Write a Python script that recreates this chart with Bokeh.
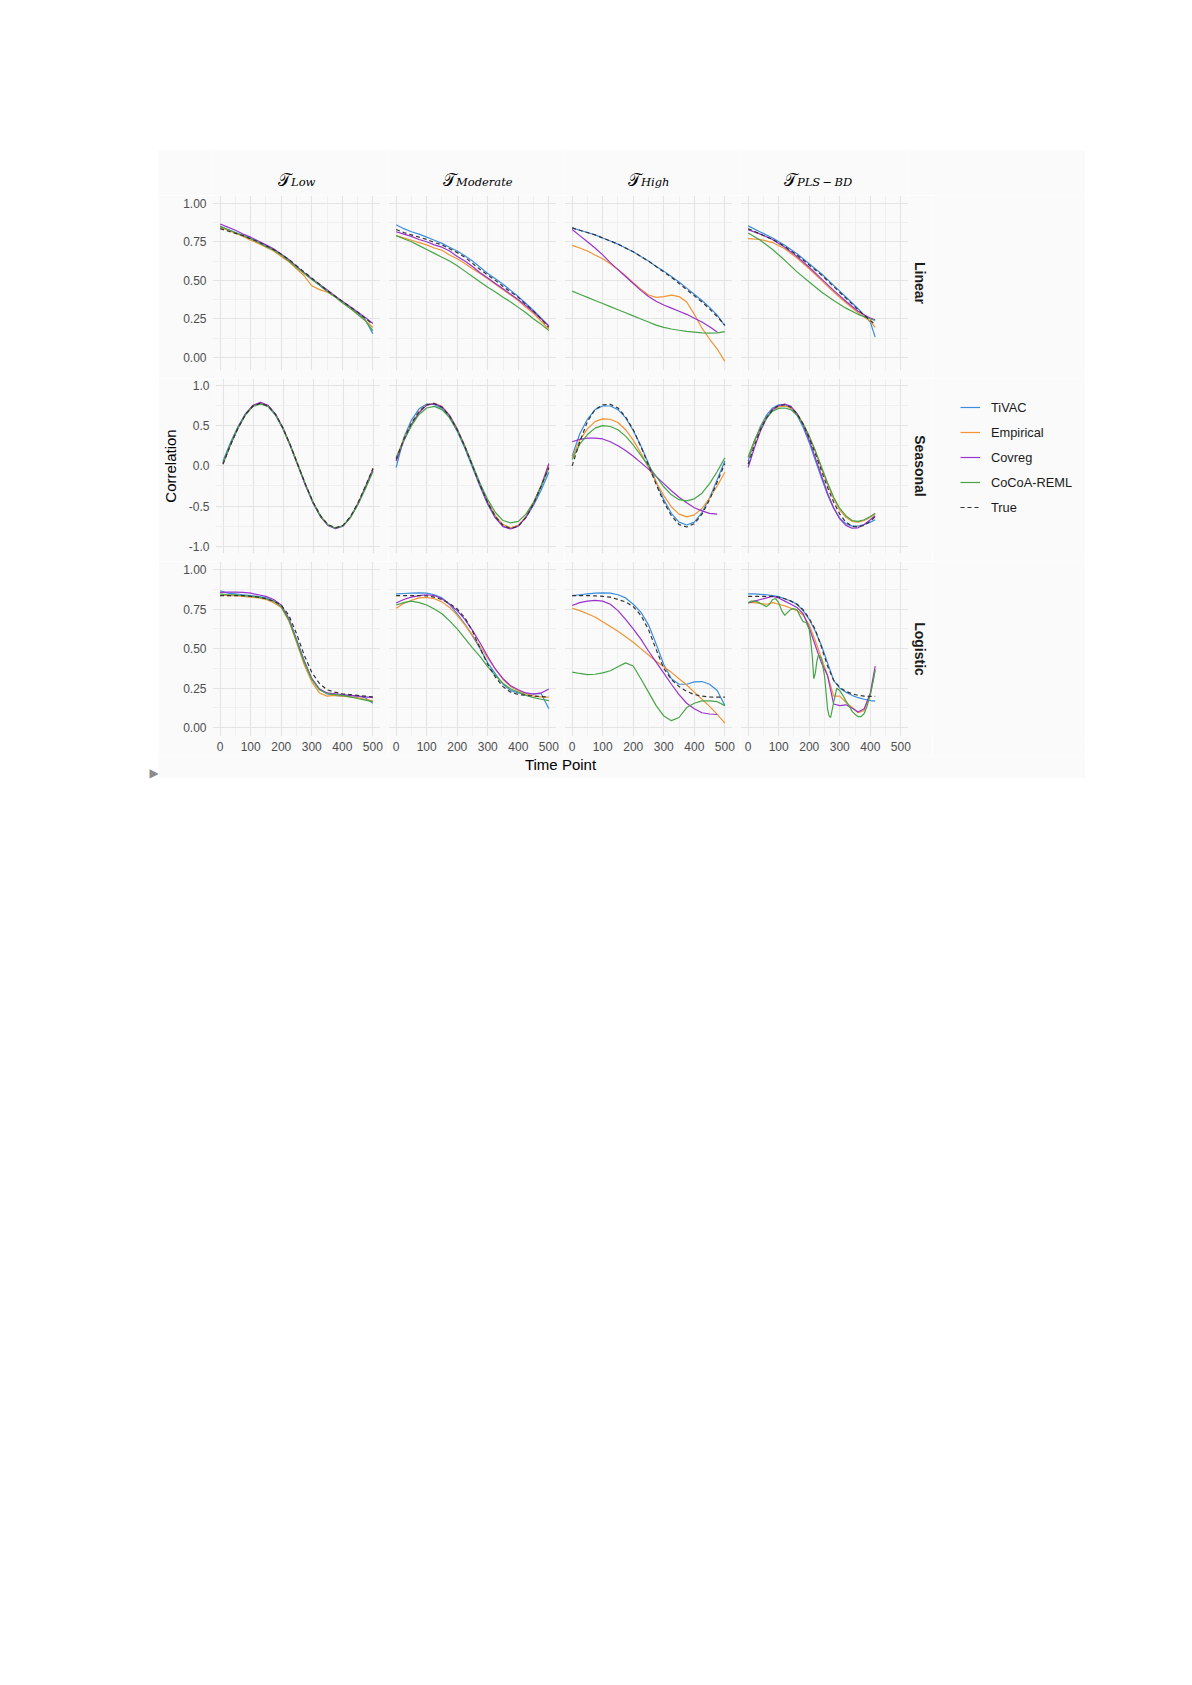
from bokeh.plotting import figure
from bokeh.layouts import row, column
from bokeh.models import (Range1d, LinearAxis, Grid, FixedTicker, PrintfTickFormatter,
                          Label, Legend, LegendItem, Spacer)
from bokeh.embed import file_html
from bokeh.resources import INLINE

# ---------------------------------------------------------------- data
METHODS = ["TiVAC", "Empirical", "Covreg", "CoCoA-REML", "True"]
ROWS = ["Linear", "Seasonal", "Logistic"]
COLS = ["Low", "Moderate", "High", "PLS-BD"]
SUBS = ["Low", "Moderate", "High", "PLS\u2009\u2212\u2009BD"]

X25 = [0, 25, 50, 75, 100, 125, 150, 175, 200, 225, 250, 275, 300, 325, 350, 375, 400, 425, 450, 475, 500]
X25_475 = [0, 25, 50, 75, 100, 125, 150, 175, 200, 225, 250, 275, 300, 325, 350, 375, 400, 425, 450, 475]
X40P = [0, 40, 80, 120, 160, 200, 240, 280, 320, 360, 400, 416]
X20P = [0, 20, 40, 60, 80, 100, 120, 140, 160, 180, 200, 220, 240, 260, 280, 300, 320, 340, 360, 380, 400, 416]
XG = [0, 10, 20, 30, 40, 50, 60, 70, 80, 90, 100, 110, 120, 130, 140, 150, 160, 170, 180, 190, 200, 205, 210,
      215, 220, 225, 230, 240, 250, 260, 265, 270, 280, 290, 300, 310, 320, 330, 340, 350, 360, 370, 380, 390,
      400, 410, 416]

X_TICKS = [0, 100, 200, 300, 400, 500]

LIN_LOW = {
    "TiVAC":      [0.85, 0.83, 0.81, 0.79, 0.77, 0.75, 0.725, 0.70, 0.67, 0.63, 0.59, 0.55, 0.51, 0.47, 0.43, 0.395, 0.36, 0.325, 0.29, 0.245, 0.155],
    "Empirical":  [0.845, 0.825, 0.805, 0.785, 0.76, 0.74, 0.715, 0.69, 0.655, 0.62, 0.575, 0.53, 0.465, 0.44, 0.425, 0.395, 0.36, 0.32, 0.28, 0.24, 0.195],
    "Covreg":     [0.865, 0.845, 0.825, 0.80, 0.78, 0.755, 0.73, 0.705, 0.67, 0.635, 0.59, 0.55, 0.51, 0.475, 0.44, 0.40, 0.365, 0.33, 0.295, 0.26, 0.22],
    "CoCoA-REML": [0.85, 0.83, 0.81, 0.79, 0.77, 0.745, 0.72, 0.695, 0.665, 0.625, 0.585, 0.545, 0.505, 0.47, 0.43, 0.395, 0.355, 0.32, 0.28, 0.24, 0.175],
    "True":       [0.835, 0.82, 0.805, 0.79, 0.77, 0.75, 0.725, 0.70, 0.67, 0.635, 0.595, 0.555, 0.515, 0.475, 0.435, 0.40, 0.365, 0.33, 0.295, 0.255, 0.215],
}
LIN_MOD = {
    "TiVAC":      [0.86, 0.835, 0.815, 0.80, 0.78, 0.76, 0.74, 0.715, 0.69, 0.66, 0.625, 0.585, 0.545, 0.51, 0.475, 0.435, 0.395, 0.35, 0.305, 0.255, 0.205],
    "Empirical":  [0.79, 0.775, 0.76, 0.745, 0.73, 0.71, 0.695, 0.665, 0.64, 0.61, 0.575, 0.545, 0.51, 0.475, 0.44, 0.405, 0.37, 0.325, 0.285, 0.235, 0.185],
    "Covreg":     [0.815, 0.80, 0.785, 0.765, 0.75, 0.73, 0.715, 0.69, 0.655, 0.625, 0.59, 0.55, 0.515, 0.48, 0.445, 0.41, 0.375, 0.335, 0.295, 0.25, 0.205],
    "CoCoA-REML": [0.79, 0.77, 0.75, 0.725, 0.70, 0.675, 0.65, 0.625, 0.595, 0.56, 0.525, 0.49, 0.455, 0.425, 0.39, 0.36, 0.325, 0.29, 0.25, 0.215, 0.175],
    "True":       [0.83, 0.81, 0.795, 0.78, 0.765, 0.745, 0.73, 0.705, 0.68, 0.65, 0.61, 0.57, 0.535, 0.50, 0.46, 0.425, 0.39, 0.345, 0.30, 0.25, 0.195],
}
LIN_HIGH = {
    "TiVAC":      [0.84, 0.825, 0.81, 0.795, 0.775, 0.755, 0.735, 0.71, 0.685, 0.655, 0.625, 0.59, 0.56, 0.525, 0.49, 0.45, 0.41, 0.37, 0.325, 0.275, 0.205],
    "Empirical":  [0.727, 0.71, 0.69, 0.665, 0.64, 0.608, 0.57, 0.53, 0.485, 0.443, 0.405, 0.39, 0.395, 0.405, 0.395, 0.36, 0.28, 0.19, 0.12, 0.055, -0.025],
    "Covreg":     [0.83, 0.79, 0.75, 0.71, 0.665, 0.615, 0.57, 0.525, 0.48, 0.435, 0.395, 0.365, 0.34, 0.32, 0.30, 0.28, 0.255, 0.23, 0.20, 0.165],
    "CoCoA-REML": [0.43, 0.41, 0.39, 0.37, 0.35, 0.33, 0.31, 0.29, 0.27, 0.25, 0.23, 0.21, 0.195, 0.185, 0.177, 0.17, 0.165, 0.16, 0.158, 0.16, 0.168],
    "True":       [0.84, 0.825, 0.81, 0.795, 0.775, 0.755, 0.735, 0.71, 0.685, 0.655, 0.625, 0.59, 0.555, 0.52, 0.48, 0.44, 0.40, 0.36, 0.315, 0.265, 0.21],
}
LIN_PLS = {
    "TiVAC":      [0.853, 0.814, 0.775, 0.727, 0.673, 0.608, 0.543, 0.468, 0.392, 0.316, 0.23, 0.132],
    "Empirical":  [0.77, 0.765, 0.745, 0.705, 0.645, 0.575, 0.50, 0.425, 0.355, 0.29, 0.235, 0.195],
    "Covreg":     [0.829, 0.80, 0.765, 0.715, 0.655, 0.585, 0.51, 0.435, 0.365, 0.30, 0.255, 0.245],
    "CoCoA-REML": [0.807, 0.76, 0.70, 0.63, 0.555, 0.49, 0.425, 0.37, 0.32, 0.28, 0.25, 0.24],
    "True":       [0.835, 0.80, 0.765, 0.72, 0.665, 0.60, 0.535, 0.46, 0.385, 0.31, 0.24, 0.215],
}

SEA_LOW = {
    "TiVAC":      [0.06, 0.29, 0.49, 0.65, 0.75, 0.775, 0.74, 0.63, 0.46, 0.24, 0.0, -0.24, -0.46, -0.63, -0.74, -0.775, -0.745, -0.635, -0.47, -0.27, -0.06],
    "Empirical":  [0.03, 0.26, 0.47, 0.64, 0.75, 0.785, 0.75, 0.645, 0.47, 0.25, 0.01, -0.235, -0.455, -0.625, -0.735, -0.775, -0.745, -0.64, -0.47, -0.26, -0.04],
    "Covreg":     [0.03, 0.265, 0.475, 0.645, 0.755, 0.79, 0.755, 0.645, 0.47, 0.25, 0.005, -0.24, -0.46, -0.63, -0.74, -0.78, -0.75, -0.64, -0.47, -0.26, -0.04],
    "CoCoA-REML": [0.04, 0.27, 0.47, 0.635, 0.74, 0.77, 0.74, 0.635, 0.465, 0.25, 0.01, -0.23, -0.45, -0.625, -0.735, -0.775, -0.745, -0.64, -0.48, -0.28, -0.07],
    "True":       [0.02, 0.26, 0.47, 0.64, 0.745, 0.78, 0.745, 0.64, 0.47, 0.25, 0.01, -0.23, -0.45, -0.62, -0.73, -0.77, -0.74, -0.63, -0.46, -0.25, -0.03],
}
SEA_MOD = {
    "TiVAC":      [-0.02, 0.35, 0.57, 0.71, 0.77, 0.765, 0.715, 0.60, 0.43, 0.22, -0.02, -0.26, -0.48, -0.65, -0.75, -0.775, -0.74, -0.64, -0.49, -0.30, -0.08],
    "Empirical":  [0.10, 0.33, 0.52, 0.67, 0.76, 0.78, 0.74, 0.63, 0.46, 0.25, 0.01, -0.23, -0.45, -0.62, -0.73, -0.77, -0.74, -0.63, -0.46, -0.24, 0.01],
    "Covreg":     [0.06, 0.31, 0.51, 0.66, 0.755, 0.775, 0.735, 0.625, 0.455, 0.24, 0.0, -0.245, -0.47, -0.645, -0.755, -0.785, -0.75, -0.64, -0.47, -0.25, 0.03],
    "CoCoA-REML": [0.10, 0.32, 0.50, 0.64, 0.72, 0.74, 0.70, 0.60, 0.44, 0.24, 0.01, -0.22, -0.42, -0.58, -0.68, -0.71, -0.69, -0.60, -0.45, -0.25, -0.03],
    "True":       [0.08, 0.33, 0.53, 0.68, 0.76, 0.775, 0.73, 0.62, 0.45, 0.24, 0.0, -0.24, -0.46, -0.63, -0.74, -0.78, -0.75, -0.64, -0.47, -0.25, -0.02],
}
SEA_HIGH = {
    "TiVAC":      [0.12, 0.40, 0.58, 0.70, 0.745, 0.745, 0.70, 0.60, 0.44, 0.25, 0.03, -0.20, -0.42, -0.59, -0.70, -0.735, -0.70, -0.58, -0.40, -0.17, 0.06],
    "Empirical":  [0.10, 0.32, 0.46, 0.55, 0.585, 0.58, 0.54, 0.45, 0.32, 0.16, -0.02, -0.20, -0.37, -0.51, -0.60, -0.635, -0.61, -0.53, -0.40, -0.25, -0.08],
    "Covreg":     [0.30, 0.33, 0.345, 0.345, 0.335, 0.30, 0.25, 0.19, 0.12, 0.04, -0.04, -0.13, -0.22, -0.31, -0.39, -0.46, -0.52, -0.56, -0.59, -0.60],
    "CoCoA-REML": [0.08, 0.27, 0.39, 0.47, 0.50, 0.49, 0.45, 0.37, 0.26, 0.13, 0.0, -0.13, -0.26, -0.36, -0.42, -0.435, -0.41, -0.34, -0.22, -0.07, 0.10],
    "True":       [0.0, 0.30, 0.55, 0.70, 0.76, 0.765, 0.72, 0.61, 0.45, 0.24, 0.01, -0.23, -0.45, -0.62, -0.73, -0.76, -0.72, -0.60, -0.42, -0.20, 0.03],
}
SEA_PLS = {
    "TiVAC":      [0.06, 0.30, 0.49, 0.63, 0.72, 0.76, 0.76, 0.72, 0.63, 0.48, 0.29, 0.07, -0.15, -0.36, -0.53, -0.65, -0.72, -0.75, -0.75, -0.73, -0.70, -0.67],
    "Empirical":  [0.10, 0.30, 0.47, 0.60, 0.69, 0.735, 0.745, 0.72, 0.65, 0.53, 0.37, 0.18, -0.03, -0.23, -0.41, -0.55, -0.64, -0.69, -0.70, -0.68, -0.64, -0.60],
    "Covreg":     [-0.02, 0.22, 0.43, 0.59, 0.70, 0.75, 0.77, 0.74, 0.65, 0.51, 0.32, 0.10, -0.12, -0.34, -0.52, -0.66, -0.74, -0.775, -0.77, -0.73, -0.67, -0.62],
    "CoCoA-REML": [0.11, 0.31, 0.47, 0.59, 0.68, 0.715, 0.72, 0.70, 0.63, 0.52, 0.37, 0.19, -0.01, -0.21, -0.39, -0.53, -0.62, -0.68, -0.69, -0.67, -0.63, -0.59],
    "True":       [0.02, 0.25, 0.45, 0.60, 0.70, 0.75, 0.76, 0.73, 0.65, 0.52, 0.35, 0.15, -0.06, -0.27, -0.45, -0.60, -0.70, -0.75, -0.76, -0.74, -0.69, -0.63],
}

LOG_LOW = {
    "TiVAC":      [0.865, 0.85, 0.845, 0.84, 0.835, 0.83, 0.82, 0.80, 0.765, 0.685, 0.56, 0.425, 0.31, 0.245, 0.215, 0.205, 0.20, 0.205, 0.20, 0.19, 0.155],
    "Empirical":  [0.84, 0.835, 0.835, 0.83, 0.825, 0.82, 0.81, 0.79, 0.76, 0.675, 0.54, 0.40, 0.29, 0.22, 0.20, 0.205, 0.20, 0.195, 0.19, 0.18, 0.17],
    "Covreg":     [0.855, 0.857, 0.857, 0.855, 0.85, 0.84, 0.83, 0.81, 0.775, 0.69, 0.555, 0.42, 0.31, 0.245, 0.22, 0.215, 0.21, 0.205, 0.20, 0.195, 0.19],
    "CoCoA-REML": [0.845, 0.84, 0.84, 0.835, 0.83, 0.825, 0.815, 0.80, 0.765, 0.68, 0.55, 0.415, 0.305, 0.24, 0.215, 0.21, 0.205, 0.195, 0.185, 0.175, 0.165],
    "True":       [0.835, 0.835, 0.835, 0.835, 0.83, 0.825, 0.815, 0.80, 0.775, 0.71, 0.595, 0.46, 0.35, 0.28, 0.24, 0.225, 0.215, 0.21, 0.205, 0.20, 0.195],
}
LOG_MOD = {
    "TiVAC":      [0.846, 0.848, 0.85, 0.852, 0.85, 0.84, 0.82, 0.78, 0.72, 0.655, 0.58, 0.50, 0.41, 0.34, 0.275, 0.235, 0.22, 0.215, 0.215, 0.215, 0.12],
    "Empirical":  [0.755, 0.785, 0.805, 0.82, 0.823, 0.815, 0.795, 0.76, 0.71, 0.65, 0.585, 0.515, 0.44, 0.37, 0.305, 0.26, 0.235, 0.215, 0.20, 0.195, 0.193],
    "Covreg":     [0.788, 0.81, 0.825, 0.835, 0.84, 0.835, 0.815, 0.78, 0.74, 0.685, 0.615, 0.535, 0.45, 0.37, 0.31, 0.265, 0.24, 0.22, 0.212, 0.22, 0.245],
    "CoCoA-REML": [0.775, 0.79, 0.80, 0.79, 0.775, 0.75, 0.72, 0.675, 0.625, 0.565, 0.505, 0.45, 0.385, 0.33, 0.28, 0.245, 0.225, 0.205, 0.19, 0.18, 0.172],
    "True":       [0.835, 0.835, 0.835, 0.835, 0.833, 0.825, 0.81, 0.785, 0.75, 0.695, 0.61, 0.50, 0.40, 0.32, 0.26, 0.225, 0.21, 0.205, 0.20, 0.197, 0.195],
}
LOG_HIGH = {
    "TiVAC":      [0.835, 0.84, 0.845, 0.85, 0.852, 0.85, 0.84, 0.82, 0.78, 0.73, 0.65, 0.53, 0.40, 0.31, 0.275, 0.275, 0.29, 0.292, 0.275, 0.235, 0.14],
    "Empirical":  [0.755, 0.74, 0.72, 0.70, 0.67, 0.64, 0.61, 0.575, 0.54, 0.50, 0.46, 0.42, 0.385, 0.35, 0.31, 0.27, 0.225, 0.18, 0.135, 0.085, 0.03],
    "Covreg":     [0.772, 0.79, 0.80, 0.805, 0.80, 0.78, 0.74, 0.685, 0.625, 0.56, 0.485, 0.415, 0.345, 0.275, 0.21, 0.155, 0.12, 0.095, 0.087, 0.084],
    "CoCoA-REML": [0.351, 0.343, 0.336, 0.338, 0.347, 0.36, 0.385, 0.41, 0.39, 0.31, 0.225, 0.14, 0.075, 0.045, 0.065, 0.128, 0.155, 0.17, 0.17, 0.165, 0.14],
    "True":       [0.835, 0.835, 0.835, 0.833, 0.83, 0.825, 0.81, 0.795, 0.765, 0.71, 0.62, 0.495, 0.375, 0.305, 0.26, 0.23, 0.21, 0.20, 0.195, 0.193, 0.193],
}
LOG_PLS = {
    "TiVAC":      [0.846, 0.845, 0.843, 0.84, 0.835, 0.828, 0.815, 0.80, 0.78, 0.74, 0.685, 0.61, 0.52, 0.41, 0.30, 0.25, 0.225, 0.205, 0.19, 0.18, 0.172, 0.168],
    "Empirical":  [0.79, 0.79, 0.785, 0.78, 0.79, 0.78, 0.77, 0.755, 0.74, 0.71, 0.65, 0.55, 0.44, 0.33, 0.20, 0.20, 0.16, 0.13, 0.095, 0.11, 0.21, 0.37],
    "Covreg":     [0.788, 0.80, 0.81, 0.82, 0.83, 0.82, 0.80, 0.78, 0.76, 0.72, 0.63, 0.52, 0.41, 0.33, 0.15, 0.14, 0.145, 0.125, 0.10, 0.12, 0.22, 0.39],
    "CoCoA-REML": [0.79, 0.80, 0.80, 0.795, 0.785, 0.775, 0.765, 0.78, 0.81, 0.815, 0.79, 0.74, 0.71, 0.73, 0.748, 0.752, 0.745, 0.705, 0.67, 0.665, 0.62, 0.55, 0.45,
                   0.31, 0.345, 0.42, 0.46, 0.44, 0.33, 0.12, 0.075, 0.065, 0.16, 0.25, 0.235, 0.205, 0.17, 0.14, 0.105, 0.085, 0.07, 0.07, 0.09, 0.14,
                   0.21, 0.30, 0.365],
    "True":       [0.83, 0.83, 0.83, 0.83, 0.83, 0.825, 0.815, 0.80, 0.78, 0.745, 0.69, 0.62, 0.51, 0.39, 0.30, 0.255, 0.23, 0.215, 0.205, 0.20, 0.198, 0.198],
}

PANELS = [
    [(X25, LIN_LOW), (X25, LIN_MOD), (X25, LIN_HIGH), (X40P, LIN_PLS)],
    [(X25, SEA_LOW), (X25, SEA_MOD), (X25, SEA_HIGH), (X20P, SEA_PLS)],
    [(X25, LOG_LOW), (X25, LOG_MOD), (X25, LOG_HIGH), (X20P, LOG_PLS)],
]
X_OVERRIDE = {
    (0, 2, "Covreg"): X25_475,
    (1, 2, "Covreg"): X25_475,
    (2, 2, "Covreg"): X25_475,
    (2, 3, "CoCoA-REML"): XG,
}

Y_RANGES = [(-0.084, 1.05), (-1.09, 1.087), (-0.055, 1.05)]
Y_MAJOR = [[0, 0.25, 0.5, 0.75, 1.0], [-1.0, -0.5, 0, 0.5, 1.0], [0, 0.25, 0.5, 0.75, 1.0]]
Y_MINOR = [[0.125, 0.375, 0.625, 0.875], [-0.75, -0.25, 0.25, 0.75], [0.125, 0.375, 0.625, 0.875]]
Y_FMT = ["%.2f", "%.1f", "%.2f"]

# ---------------------------------------------------------------- style
COLORS = {"TiVAC": "#3C8DDE", "Empirical": "#F39331", "Covreg": "#9A32CD",
          "CoCoA-REML": "#47A447", "True": "#333333"}
DASH = {"TiVAC": "solid", "Empirical": "solid", "Covreg": "solid",
        "CoCoA-REML": "solid", "True": "4 3"}
BG = "#FAFAFA"
FONT = "Liberation Sans"
FRAME_W, FRAME_H = 168, 175
GAP = 8
LEFT_B = 54
RIGHT_B = 24
BOTTOM_B = 20
TITLE_H = 45
LEG_W = 153
TITLE_JOIN = [78, 67, 76, 56]
NAN = float("nan")


def blank(w, h, fill=BG):
    p = figure(width=w, height=h, x_range=Range1d(0, w), y_range=Range1d(0, h),
               x_axis_type=None, y_axis_type=None, toolbar_location=None,
               output_backend="svg", title=None, min_border_left=0, min_border_right=0,
               min_border_top=0, min_border_bottom=0, outline_line_color=None,
               background_fill_color=fill, border_fill_color=fill)
    return p


def style_axis(ax):
    ax.axis_line_color = None
    ax.major_tick_line_color = None
    ax.minor_tick_line_color = None
    ax.major_tick_out = 0
    ax.major_tick_in = 0
    ax.minor_tick_out = 0
    ax.minor_tick_in = 0
    ax.major_label_text_font = FONT
    ax.major_label_text_font_size = "12px"
    ax.major_label_text_color = "#4D4D4D"
    ax.axis_label_text_font = FONT
    ax.axis_label_text_font_size = "15px"
    ax.axis_label_text_font_style = "normal"
    ax.axis_label_text_color = "#000000"


def make_panel(r, c):
    left = LEFT_B if c == 0 else 0
    right = RIGHT_B if c == 3 else GAP
    bottom = BOTTOM_B if r == 2 else GAP
    p = figure(width=left + FRAME_W + right, height=FRAME_H + bottom,
               x_range=Range1d(-25, 525), y_range=Range1d(*Y_RANGES[r]),
               x_axis_type=None, y_axis_type=None, toolbar_location=None,
               output_backend="svg", title=None,
               min_border_left=left, min_border_right=right,
               min_border_top=0, min_border_bottom=bottom,
               background_fill_color=BG, border_fill_color=BG,
               outline_line_color=None)
    xt = FixedTicker(ticks=X_TICKS, minor_ticks=[50, 150, 250, 350, 450])
    yt = FixedTicker(ticks=Y_MAJOR[r], minor_ticks=Y_MINOR[r])
    for dim, t in ((0, xt), (1, yt)):
        p.add_layout(Grid(dimension=dim, ticker=t, grid_line_color="#E4E4E4",
                          grid_line_width=1.1, minor_grid_line_color="#EEEEEE",
                          minor_grid_line_width=0.8), "center")
    if c == 0:
        ax = LinearAxis(ticker=yt, formatter=PrintfTickFormatter(format=Y_FMT[r]))
        style_axis(ax)
        ax.major_label_standoff = 6
        if r == 1:
            ax.axis_label = "Correlation"
            ax.axis_label_standoff = 7
        p.add_layout(ax, "left")
    if r == 2:
        ax = LinearAxis(ticker=xt)
        style_axis(ax)
        ax.major_label_standoff = 5
        p.add_layout(ax, "below")
    if c == 3:
        ax = LinearAxis(ticker=FixedTicker(ticks=[]), axis_label=ROWS[r])
        style_axis(ax)
        ax.major_label_standoff = 0
        ax.axis_label_standoff = 3
        ax.axis_label_text_font_style = "bold"
        ax.axis_label_text_font_size = "14px"
        ax.axis_label_text_color = "#1A1A1A"
        p.add_layout(ax, "right")

    xs_default, series = PANELS[r][c]
    for m in METHODS:
        xs = X_OVERRIDE.get((r, c, m), xs_default)
        p.line(xs, series[m], line_color=COLORS[m], line_width=1.2, line_dash=DASH[m])
    return p


def title_fig(c, w):
    p = blank(w, TITLE_H)
    jx = TITLE_JOIN[c]
    p.add_layout(Label(x=jx, y=16, text="\U0001D4AF", text_font="DejaVu Serif",
                       text_font_size="17px", text_align="right",
                       text_baseline="alphabetic", text_color="#000000"))
    p.add_layout(Label(x=jx + 0.5, y=13.5, text=SUBS[c], text_font="DejaVu Serif",
                       text_font_style="italic", text_font_size="11.5px",
                       text_align="left", text_baseline="alphabetic",
                       text_color="#000000"))
    return p


def legend_fig(h):
    p = blank(LEG_W, h)
    items = []
    for m in METHODS:
        rr = p.line(x=[NAN, NAN], y=[NAN, NAN], line_color=COLORS[m], line_width=1.2,
                    line_dash=DASH[m])
        items.append(LegendItem(label=m, renderers=[rr]))
    leg = Legend(items=items, location=(28, 36), orientation="vertical",
                 glyph_width=20, glyph_height=20, label_height=20, spacing=5,
                 padding=0, margin=0, label_standoff=11, border_line_color=None,
                 background_fill_alpha=0, label_text_font=FONT,
                 label_text_font_size="12.8px", label_text_color="#1A1A1A")
    p.add_layout(leg)
    return p


panels = [[make_panel(r, c) for c in range(4)] for r in range(3)]

title_row = row(blank(LEFT_B, TITLE_H),
                title_fig(0, FRAME_W + GAP), title_fig(1, FRAME_W + GAP),
                title_fig(2, FRAME_W + GAP), title_fig(3, FRAME_W),
                blank(RIGHT_B + LEG_W, TITLE_H))
row1 = row(*panels[0], blank(LEG_W, FRAME_H + GAP))
row2 = row(*panels[1], legend_fig(FRAME_H + GAP))
row3 = row(*panels[2], blank(LEG_W, FRAME_H + BOTTOM_B))

total_w = LEFT_B + 3 * (FRAME_W + GAP) + FRAME_W + RIGHT_B + LEG_W
xlab = blank(total_w, 22)
xlab.add_layout(Label(x=LEFT_B + (3 * (FRAME_W + GAP) + FRAME_W) / 2, y=14, text="Time Point",
                      text_font=FONT, text_font_size="15px", text_align="center",
                      text_baseline="middle", text_color="#000000"))

block = column(title_row, row1, row2, row3, xlab)

tri = blank(158, 40, fill="#FFFFFF")
tri.add_layout(Label(x=153.5, y=18, text="\u25B6", text_font="DejaVu Sans",
                     text_font_size="12px", text_align="center", text_baseline="middle",
                     text_color="#8C8C8C"))
left_col = column(Spacer(width=158, height=600), tri)

page = column(Spacer(width=10, height=150), row(left_col, block))

open("out.html", "w").write(file_html(page, INLINE))
